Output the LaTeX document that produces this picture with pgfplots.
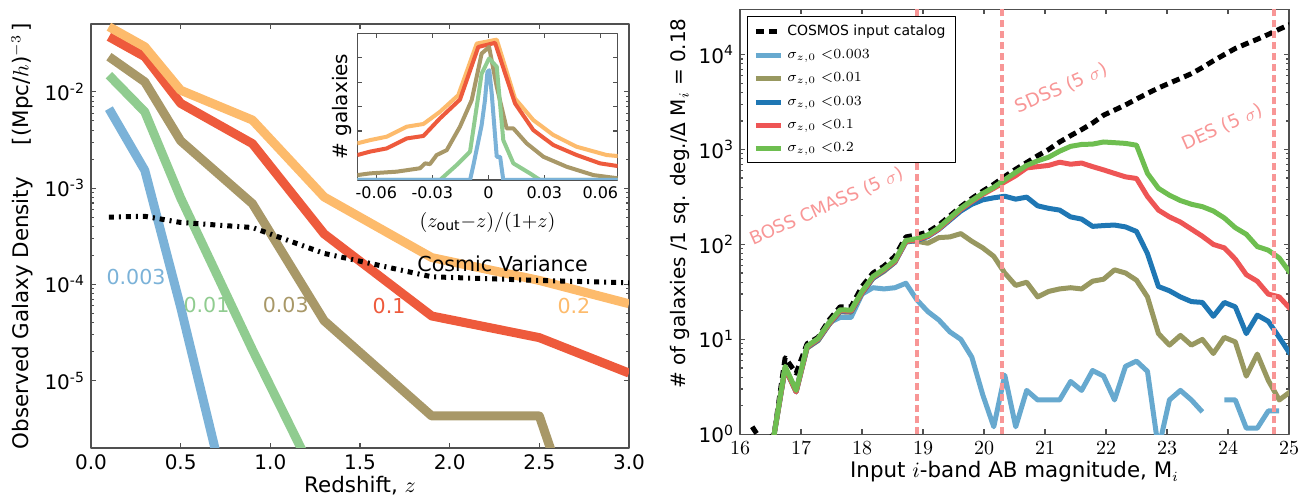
\documentclass[border=0pt]{standalone}
\usepackage{fontspec}
\setmainfont{DejaVu Sans}
\usepackage{pgfplots}
\pgfplotsset{compat=1.18}
\definecolor{cBlueL}{HTML}{7BB2D8}
\definecolor{cGreenL}{HTML}{90CC90}
\definecolor{cTan}{HTML}{A89868}
\definecolor{cRedL}{HTML}{EE5A3C}
\definecolor{cOrange}{HTML}{FDBB6C}
\definecolor{rBlueL}{HTML}{67A9CF}
\definecolor{rOlive}{HTML}{989860}
\definecolor{rBlue}{HTML}{1F77B4}
\definecolor{rRed}{HTML}{EE5555}
\definecolor{rGreen}{HTML}{6EBE50}
\definecolor{cPink}{HTML}{F89696}
\definecolor{axgray}{HTML}{505050}
\newcommand{\tsup}[1]{\raisebox{3.6pt}{\fontsize{7}{7}\selectfont #1}}
\pgfplotsset{every axis/.append style={
  axis line style={axgray, line width=0.7pt},
  tick style={axgray, line width=0.6pt},
  major tick length=2.4pt, minor tick length=1.3pt, tick align=inside,
  tick label style={font=\fontsize{10}{12}\selectfont},
  label style={font=\fontsize{10.7}{12}\selectfont},
  line join=round}}
\begin{document}
\begin{tikzpicture}
\useasboundingbox (0,0) rectangle (656pt,248pt);
% ---------------- left panel ----------------
\begin{axis}[at={(45.5pt,24pt)}, anchor=south west, scale only axis,
  width=269pt, height=212pt,
  xmin=0, xmax=3.0, ymode=log, ymin=2e-6, ymax=0.0507,
  xtick={0,0.5,1,1.5,2,2.5,3}, xticklabels={0.0,0.5,1.0,1.5,2.0,2.5,3.0},
  ytick={1e-5,1e-4,1e-3,1e-2},
  yticklabels={10\tsup{-5},10\tsup{-4},10\tsup{-3},10\tsup{-2}},
  xlabel={Redshift, $z$},
  ylabel={Observed Galaxy Density\hspace{16pt}[(Mpc/$h$)$^{-3}$\,]},
  xlabel style={at={(axis description cs:0.5,-0.0896)}, anchor=center},
  ylabel style={at={(axis description cs:-0.128,0.5)}, anchor=center},
]
\addplot[cBlueL, line width=4.5pt] coordinates {(0.1,6.7e-3)(0.3,1.53e-3)(0.5,5.8e-5)(0.9,5e-8)};
\addplot[cGreenL, line width=4.5pt] coordinates {(0.1,0.0149)(0.3,6.2e-3)(0.5,7.9e-4)(0.9,2.1e-5)(1.3,6.5e-7)};
\addplot[cTan, line width=4.5pt] coordinates {(0.1,0.0232)(0.3,0.0127)(0.5,3.1e-3)(0.9,6.9e-4)(1.3,4.2e-5)(1.9,4.3e-6)(2.5,4.3e-6)(2.7,3.5e-7)};
\addplot[cRedL, line width=4.5pt] coordinates {(0.1,0.0374)(0.3,0.0232)(0.5,7.6e-3)(0.9,2.9e-3)(1.3,3.35e-4)(1.9,4.7e-5)(2.5,2.8e-5)(3.0,1.2e-5)};
\addplot[cOrange, line width=4.5pt] coordinates {(0.1,0.0475)(0.3,0.0294)(0.5,0.0104)(0.9,0.0051)(1.3,8.1e-4)(1.9,1.9e-4)(2.5,1.1e-4)(3.0,6.3e-5)};
\addplot[black, line width=2.5pt, dash pattern=on 2.5pt off 2.5pt on 1pt off 2.5pt] coordinates {(0.1,5.0e-4)(0.3,5.1e-4)(0.5,4.4e-4)(0.9,3.9e-4)(1.3,2.1e-4)(1.9,1.2e-4)(2.5,1.1e-4)(3.0,1.04e-4)};
\node[text=cBlueL, font=\fontsize{10.3}{12}\selectfont] at (axis cs:0.251,1.2e-4) {0.003};
\node[text=cGreenL, font=\fontsize{10.3}{12}\selectfont] at (axis cs:0.644,6.1e-5) {0.01};
\node[text=cTan, font=\fontsize{10.3}{12}\selectfont] at (axis cs:1.086,6.1e-5) {0.03};
\node[text=cRedL, font=\fontsize{10.3}{12}\selectfont] at (axis cs:1.662,6.0e-5) {0.1};
\node[text=cOrange, font=\fontsize{10.3}{12}\selectfont] at (axis cs:2.693,6.0e-5) {0.2};
\node[text=black, font=\fontsize{10.3}{12}\selectfont] at (axis cs:2.295,1.63e-4) {Cosmic Variance};
\end{axis}
% ---------------- inset ----------------
\begin{axis}[at={(178.65pt,158pt)}, anchor=south west, scale only axis,
  width=130.2pt, height=73.35pt,
  axis background/.style={fill=white},
  xmin=-0.0702, xmax=0.0693, ymin=0, ymax=6,
  scaled x ticks=false,
  xtick={-0.06,-0.03,0,0.03,0.06}, xticklabels={-0.06,-0.03,0,0.03,0.06},
  ytick={1,2,3,4,5}, yticklabels={},
  tick label style={font=\fontsize{8}{9}\selectfont},
  xlabel={$(z_{\mathrm{out}}{-}z)/(1{+}z)$},
  ylabel={\# galaxies},
  label style={font=\fontsize{10}{12}\selectfont},
  xlabel style={at={(axis description cs:0.5,-0.2897)}, anchor=center},
  ylabel style={at={(axis description cs:-0.057,0.5)}, anchor=center},
]
\addplot[cOrange, line width=2pt] coordinates {(-0.0702,1.50)(-0.0634,1.63)(-0.0545,1.77)(-0.0437,2.18)(-0.0348,2.29)(-0.0259,2.79)(-0.0161,3.47)(-0.0062,5.58)(0.0045,5.74)(0.0143,3.33)(0.0241,2.45)(0.0348,1.84)(0.0473,1.36)(0.0634,1.02)(0.0693,0.98)};
\addplot[cRedL, line width=2pt] coordinates {(-0.0702,1.02)(-0.0634,1.16)(-0.0545,1.29)(-0.0437,1.70)(-0.0348,1.80)(-0.0259,2.52)(-0.0152,3.29)(-0.0054,5.44)(0.0036,5.61)(0.0143,3.13)(0.0241,2.04)(0.0348,1.43)(0.0473,1.02)(0.0598,0.68)(0.0693,0.57)};
\addplot[cTan, line width=2pt] coordinates {(-0.0702,0.20)(-0.0634,0.27)(-0.0491,0.34)(-0.0366,0.48)(-0.0339,0.68)(-0.0313,0.65)(-0.0277,1.02)(-0.0223,1.22)(-0.0152,2.18)(-0.0089,3.27)(-0.0036,5.17)(0.0004,5.44)(0.0045,3.81)(0.0098,2.11)(0.0134,2.11)(0.0205,1.50)(0.0295,0.95)(0.0420,0.54)(0.0563,0.20)(0.0693,0.07)};
\addplot[cGreenL, line width=2pt] coordinates {(-0.0702,0)(-0.0259,0)(-0.0170,0.61)(-0.0098,1.16)(-0.0036,4.35)(0.0004,4.97)(0.0045,4.63)(0.0080,1.63)(0.0134,0.68)(0.0223,0.27)(0.0277,0)(0.0693,0)};
\addplot[cBlueL, line width=2pt] coordinates {(-0.0702,0)(-0.0098,0)(-0.008,0.61)(-0.0036,2.24)(-0.0018,3.27)(-0.0005,4.42)(0.0005,4.49)(0.0018,3.54)(0.0045,0.95)(0.0063,0.95)(0.0080,0)(0.0693,0)};
\end{axis}
% ---------------- right panel ----------------
\begin{axis}[at={(370pt,30.85pt)}, anchor=south west, scale only axis,
  width=274.5pt, height=212.5pt,
  xmin=16, xmax=25, ymode=log, ymin=1, ymax=3e4,
  xtick={16,17,18,19,20,21,22,23,24,25},
  ytick={1,10,100,1000,10000},
  yticklabels={10\tsup{0},10\tsup{1},10\tsup{2},10\tsup{3},10\tsup{4}},
  unbounded coords=jump,
  xlabel={Input $i$-band AB magnitude, M$_i$},
  ylabel={\# of galaxies /1 sq. deg./Δ M$_i$ = 0.18},
  xlabel style={at={(axis description cs:0.5,-0.0885)}, anchor=center},
  ylabel style={at={(axis description cs:-0.109,0.543)}, anchor=center, font=\fontsize{10}{12}\selectfont},
  legend style={at={(axis description cs:0.0122,0.9835)}, anchor=north west,
    draw=black, line width=0.6pt, fill=white, font=\fontsize{7}{8}\selectfont,
    inner xsep=3pt, inner ysep=2pt, row sep=1.6pt},
  legend cell align=left,
  legend image code/.code={\draw[#1] (0pt,0pt) -- (12.5pt,0pt);},
]
\addplot[black, line width=2.5pt, dash pattern=on 4pt off 2.5pt] coordinates {(16.2,1.2)(16.38,0.8)(16.56,1.0)(16.74,6.4)(16.92,4.4)(17.1,9.0)(17.28,10.5)(17.46,16)(17.64,22)(17.82,22)(18.0,36)(18.18,50)(18.36,59)(18.54,75)(18.72,120)(18.9,126)(19.08,135)(19.26,160)(19.44,200)(19.62,250)(19.8,305)(19.98,365)(20.16,430)(20.34,520)(20.52,620)(20.7,730)(20.88,860)(21.06,1000)(21.24,1200)(21.42,1400)(21.6,1620)(21.78,1900)(21.96,2300)(22.14,2600)(22.32,2950)(22.5,3400)(22.68,3900)(22.86,4450)(23.04,5000)(23.22,5600)(23.4,6300)(23.58,7300)(23.76,8600)(23.94,10000)(24.12,11600)(24.3,13000)(24.48,14500)(24.66,16300)(24.84,18500)(25.02,20800)};
\addlegendentry{COSMOS input catalog}
\addplot[rBlueL, line width=2.5pt] coordinates {(16.38,0.3)(16.56,1.0)(16.74,5.0)(16.92,2.9)(17.1,8.4)(17.28,10)(17.46,15)(17.64,17)(17.82,17)(18.0,30)(18.18,35)(18.36,34)(18.54,35)(18.72,39)(18.9,26)(19.08,19.6)(19.26,16)(19.44,12)(19.62,10)(19.8,6.5)(19.98,2.6)(20.16,1.2)(20.34,4.2)(20.52,1.2)(20.7,2.9)(20.88,2.3)(21.06,2.3)(21.24,2.3)(21.42,3.6)(21.6,2.9)(21.78,4.7)(21.96,4.1)(22.14,2.3)(22.32,5.2)(22.5,5.9)(22.68,4.6)(22.86,0.7)(23.04,2.3)(23.22,2.9)(23.4,2.3)(23.58,1.72)(23.76,nan)(23.94,2.3)(24.12,2.3)(24.3,1.16)(24.48,1.16)(24.66,1.76)(24.84,1.76)};
\addlegendentry{$\sigma_{z,0}\;{<}0.003$}
\addplot[rOlive, line width=2.5pt] coordinates {(16.38,0.3)(16.56,1.0)(16.74,4.9)(16.92,2.8)(17.1,8.1)(17.28,9.7)(17.46,14.3)(17.64,19.5)(17.82,19.3)(18.0,30.4)(18.18,44)(18.36,52)(18.54,65)(18.72,110)(18.9,108)(19.08,103)(19.26,118)(19.44,120)(19.62,130)(19.8,108)(19.98,92)(20.16,75)(20.34,50)(20.52,37)(20.7,40)(20.88,28)(21.06,32)(21.24,34)(21.42,35)(21.6,34)(21.78,41)(21.96,43)(22.14,54)(22.32,50)(22.5,42)(22.68,28)(22.86,11.5)(23.04,8.7)(23.22,11)(23.4,8.7)(23.58,10)(23.76,7.1)(23.94,10.5)(24.12,9.4)(24.3,4.1)(24.48,7.0)(24.66,3.7)(24.84,2.3)(25.02,2.8)};
\addlegendentry{$\sigma_{z,0}\;{<}0.01$}
\addplot[rBlue, line width=2.5pt] coordinates {(16.38,0.3)(16.56,1.0)(16.74,5.0)(16.92,2.8)(17.1,8.2)(17.28,9.8)(17.46,14.4)(17.64,19.7)(17.82,19.5)(18.0,30.7)(18.18,44)(18.36,53)(18.54,65)(18.72,106)(18.9,110)(19.08,121)(19.26,144)(19.44,180)(19.62,225)(19.8,265)(19.98,295)(20.16,310)(20.34,322)(20.52,300)(20.7,315)(20.88,255)(21.06,240)(21.24,230)(21.42,195)(21.6,185)(21.78,155)(21.96,158)(22.14,160)(22.32,153)(22.5,137)(22.68,80)(22.86,36)(23.04,32.5)(23.22,28)(23.4,25)(23.58,24.5)(23.76,17.5)(23.94,24.5)(24.12,22)(24.3,11.5)(24.48,18)(24.66,15.5)(24.84,10.5)(25.02,7)};
\addlegendentry{$\sigma_{z,0}\;{<}0.03$}
\addplot[rRed, line width=2.5pt] coordinates {(16.38,0.3)(16.56,1.0)(16.74,5.0)(16.92,2.8)(17.1,8.3)(17.28,10)(17.46,14.6)(17.64,20)(17.82,19.8)(18.0,31)(18.18,45)(18.36,54)(18.54,66)(18.72,107)(18.9,112)(19.08,123)(19.26,146)(19.44,185)(19.62,234)(19.8,283)(19.98,336)(20.16,390)(20.34,455)(20.52,530)(20.7,640)(20.88,660)(21.06,680)(21.24,735)(21.42,700)(21.6,720)(21.78,660)(21.96,610)(22.14,560)(22.32,515)(22.5,495)(22.68,320)(22.86,230)(23.04,195)(23.22,172)(23.4,145)(23.58,122)(23.76,100)(23.94,92)(24.12,70)(24.3,48)(24.48,41)(24.66,30)(24.84,28)(25.02,21)};
\addlegendentry{$\sigma_{z,0}\;{<}0.1$}
\addplot[rGreen, line width=2.5pt] coordinates {(16.38,0.3)(16.56,1.0)(16.74,5.2)(16.92,2.9)(17.1,8.5)(17.28,10.2)(17.46,15)(17.64,20.5)(17.82,20.3)(18.0,32)(18.18,46)(18.36,55)(18.54,68)(18.72,110)(18.9,115)(19.08,126)(19.26,150)(19.44,190)(19.62,240)(19.8,290)(19.98,345)(20.16,400)(20.34,480)(20.52,575)(20.7,680)(20.88,760)(21.06,830)(21.24,960)(21.42,1080)(21.6,1130)(21.78,1140)(21.96,1200)(22.14,1180)(22.32,1160)(22.5,1110)(22.68,560)(22.86,390)(23.04,330)(23.22,290)(23.4,265)(23.58,250)(23.76,225)(23.94,190)(24.12,150)(24.3,128)(24.48,95)(24.66,87)(24.84,72)(25.02,50)};
\addlegendentry{$\sigma_{z,0}\;{<}0.2$}
\addplot[cPink, line width=2pt, dash pattern=on 3.5pt off 2pt, forget plot] coordinates {(18.9,1)(18.9,3e4)};
\addplot[cPink, line width=2pt, dash pattern=on 3.5pt off 2pt, forget plot] coordinates {(20.3,1)(20.3,3e4)};
\addplot[cPink, line width=2pt, dash pattern=on 3.5pt off 2pt, forget plot] coordinates {(24.75,1)(24.75,3e4)};
\node[rotate=24, text=cPink, font=\fontsize{9}{10}\selectfont] at (axis cs:17.42,250) {BOSS CMASS (5 $\sigma$)};
\node[rotate=24, text=cPink, font=\fontsize{9.2}{11}\selectfont] at (axis cs:21.27,4420) {SDSS (5 $\sigma$)};
\node[rotate=24, text=cPink, font=\fontsize{9.2}{11}\selectfont] at (axis cs:23.91,1718) {DES (5 $\sigma$)};
\end{axis}
\end{tikzpicture}
\end{document}
